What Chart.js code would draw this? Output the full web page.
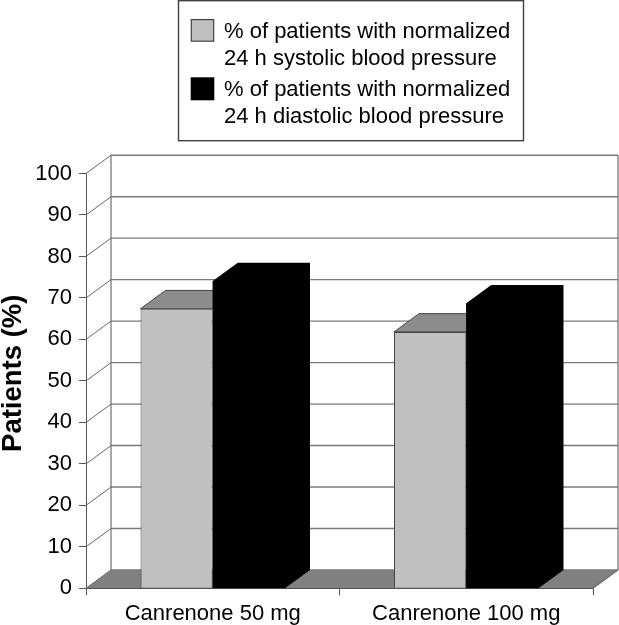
<!DOCTYPE html>
<html>
<head>
<meta charset="utf-8">
<style>html,body{margin:0;padding:0;background:#fff;overflow:hidden}canvas{display:block}</style>
<script src="https://cdn.jsdelivr.net/npm/chart.js@4/dist/chart.umd.js"></script>
</head>
<body>
<canvas id="c" width="619" height="625"></canvas>
<script>
const categories = ['Canrenone 50 mg', 'Canrenone 100 mg'];
const systolicValues = [67.4, 61.8];
const diastolicValues = [74.1, 68.7];
const systolicLabel = ['% of patients with normalized', '24 h systolic blood pressure'];
const diastolicLabel = ['% of patients with normalized', '24 h diastolic blood pressure'];
const yAxisTitle = 'Patients (%)';
const yTickStep = 10;

const FONT = '"Liberation Sans", Arial, sans-serif';
const DX = 25, DY = -18.3;

function poly(ctx, pts, fill, stroke, lw) {
  ctx.beginPath();
  pts.forEach((p, i) => i ? ctx.lineTo(p[0], p[1]) : ctx.moveTo(p[0], p[1]));
  ctx.closePath();
  if (fill) { ctx.fillStyle = fill; ctx.fill(); }
  if (stroke) { ctx.strokeStyle = stroke; ctx.lineWidth = lw || 1; ctx.stroke(); }
}

const scene3d = {
  id: 'scene3d',
  beforeLayout(chart) {
    const lg = chart.legend;
    if (lg && !lg._fixedFit) {
      const fit = lg.fit;
      lg.fit = function () { fit.call(this); this.height = 173.5; };
      lg._fixedFit = true;
    }
  },
  beforeDraw(chart) {
    const { ctx, legend } = chart;
    legend.left = 155.5;
    legend.right = 619;
    legend.top = -14.1;
    ctx.save();
    ctx.strokeStyle = '#404040';
    ctx.lineWidth = 1.4;
    ctx.strokeRect(178.5, 0.7, 345, 140);
    // legend swatches
    ctx.fillStyle = chart.data.datasets[0].backgroundColor;
    ctx.strokeStyle = '#444';
    ctx.lineWidth = 1.2;
    ctx.fillRect(191.3, 19.6, 22.4, 21.6);
    ctx.strokeRect(191.3, 19.6, 22.4, 21.6);
    ctx.fillStyle = chart.data.datasets[1].backgroundColor;
    ctx.fillRect(190.7, 77.3, 23.6, 23);
    ctx.restore();
  },
  beforeDatasetsDraw(chart) {
    const { ctx, chartArea: a, scales: { y } } = chart;
    const b = y.getPixelForValue(0);
    ctx.save();
    poly(ctx, [[a.left, b], [a.right, b], [a.right + DX, b + DY], [a.left + DX, b + DY]], '#808080');
    y.ticks.forEach(t => {
      const py = y.getPixelForValue(t.value);
      ctx.beginPath();
      ctx.moveTo(a.left, py);
      ctx.lineTo(a.left + DX, py + DY);
      ctx.strokeStyle = '#666';
      ctx.lineWidth = 1;
      ctx.stroke();
      ctx.beginPath();
      ctx.moveTo(a.left + DX, py + DY);
      ctx.lineTo(a.right + DX, py + DY);
      ctx.strokeStyle = '#7a7a7a';
      ctx.lineWidth = 1.4;
      ctx.stroke();
    });
    ctx.strokeStyle = '#707070';
    ctx.lineWidth = 1.2;
    ctx.beginPath();
    ctx.moveTo(a.left + DX, a.top + DY); ctx.lineTo(a.left + DX, b + DY);
    ctx.moveTo(a.right + DX, a.top + DY); ctx.lineTo(a.right + DX, b + DY);
    ctx.moveTo(a.right + DX, b + DY); ctx.lineTo(a.right, b);
    ctx.stroke();
    chart.getDatasetMeta(0).data.forEach(bar => {
      const l = bar.x - bar.width / 2, r = bar.x + bar.width / 2, t = bar.y;
      poly(ctx, [[l, t], [r, t], [r + DX, t + DY], [l + DX, t + DY]], '#8c8c8c', '#444', 1);
    });
    chart.getDatasetMeta(1).data.forEach(bar => {
      const l = bar.x - bar.width / 2, r = bar.x + bar.width / 2, t = bar.y;
      poly(ctx, [[l, t], [l + DX, t + DY], [r + DX, t + DY], [r + DX, b + DY], [r, b], [l, b]], '#000');
    });
    ctx.restore();
  }
};

new Chart(document.getElementById('c'), {
  type: 'bar',
  data: {
    labels: categories,
    datasets: [
      { label: systolicLabel, data: systolicValues, backgroundColor: '#c0c0c0', borderColor: '#444444', borderWidth: 1, categoryPercentage: 0.57, barPercentage: 1 },
      { label: diastolicLabel, data: diastolicValues, backgroundColor: '#000000', borderWidth: 0, categoryPercentage: 0.57, barPercentage: 1 }
    ]
  },
  options: {
    responsive: false,
    animation: false,
    devicePixelRatio: 1,
    layout: { padding: { top: 0, right: 26, left: 0, bottom: 0 } },
    plugins: {
      tooltip: { enabled: false },
      legend: {
        display: true,
        position: 'top',
        align: 'start',
        labels: {
          boxWidth: 22.5,
          boxHeight: 23,
          padding: 35,
          color: '#000',
          font: { family: FONT, size: 22 },
          generateLabels: chart => chart.data.datasets.map((d, i) => ({
            text: d.label,
            fillStyle: 'rgba(0,0,0,0)',
            strokeStyle: 'rgba(0,0,0,0)',
            lineWidth: 0,
            datasetIndex: i
          }))
        }
      }
    },
    scales: {
      x: {
        afterFit(s) { s.height = 36.7; },
        grid: { drawOnChartArea: false, drawTicks: true, tickLength: 7, color: '#555', offset: true },
        border: { display: true, color: '#444', width: 1 },
        ticks: { color: '#000', font: { family: FONT, size: 22 }, padding: 5, maxRotation: 0 }
      },
      y: {
        min: 0,
        max: 100,
        afterFit(s) { s.width = 86; },
        grid: { drawOnChartArea: false, drawTicks: true, tickLength: 7, color: '#555' },
        border: { display: true, color: '#555', width: 1 },
        ticks: { stepSize: yTickStep, color: '#000', font: { family: FONT, size: 22 }, padding: 7 },
        title: {
          display: true,
          text: '  ' + yAxisTitle,
          color: '#000',
          font: { family: FONT, size: 27.5, weight: 'bold', lineHeight: 1 },
          padding: { top: 0, bottom: 0 }
        }
      }
    }
  },
  plugins: [scene3d]
});
</script>
</body>
</html>
